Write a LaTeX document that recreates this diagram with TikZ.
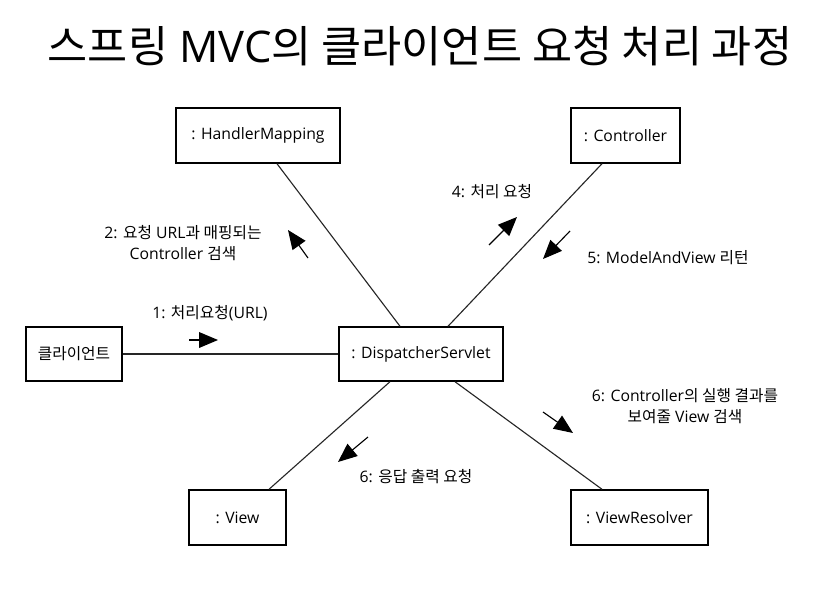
\documentclass[tikz,border=0pt]{standalone}
\usepackage{fontspec}
\setmainfont{Open Sans}
\newfontfamily\hangul{Noto Sans CJK KR}
\usetikzlibrary{arrows.meta, calc}

\begin{document}
\begin{tikzpicture}[
    x=0.025cm, y=-0.025cm,
    every node/.style={font=\fontsize{11.2}{15.3}\selectfont},
    objeto/.style={
        draw=black,
        line width=1pt,
        fill=white,
        align=center,
        minimum height=1.375cm
    },
    ligacao/.style={
        draw=black!85,
        line width=0.8pt
    },
    mensagem/.style={
        -{Triangle[length=13.5pt,width=11.2pt]},
        line width=0.8pt
    },
    rotulo/.style={
        align=center
    }
]

\useasboundingbox (0,0) rectangle (824,599);

% ============================================================
% TITULO
% ============================================================

\node[
    font=\fontsize{31}{36}\selectfont
] (titulo) at (420,46)
{{\hangul 스프링} MVC{\hangul 의 클라이언트 요청 처리 과정}};

% ============================================================
% OBJETOS
% ============================================================

\node[
    objeto,
    minimum width=4.1cm
] (hm) at (258,135.5)
{: HandlerMapping};

\node[
    objeto,
    minimum width=2.725cm
] (ctrl) at (625.5,135.5)
{: Controller};

\node[
    objeto,
    minimum width=2.4cm,
    minimum height=1.35cm
] (cliente) at (74,354)
{\hangul 클라이언트};

\node[
    objeto,
    minimum width=4.1cm,
    minimum height=1.35cm
] (ds) at (421,354)
{: DispatcherServlet};

\node[
    objeto,
    minimum width=2.425cm
] (view) at (237.5,517.5)
{: View};

\node[
    objeto,
    minimum width=3.425cm
] (vr) at (639.5,517.5)
{: ViewResolver};

% ============================================================
% LIGACOES
% ============================================================

\draw[ligacao] (cliente.east) -- (ds.west);
\draw[ligacao] ($(hm.south)+(19,0)$) -- ($(ds.north)+(-21,0)$);
\draw[ligacao] ($(ctrl.south)+(-23.5,0)$) -- ($(ds.north)+(27,0)$);
\draw[ligacao] ($(view.north)+(31.5,0)$) -- ($(ds.south)+(-31,0)$);
\draw[ligacao] ($(vr.north)+(-37.5,0)$) -- ($(ds.south)+(34,0)$);

% ============================================================
% MENSAGENS
% ============================================================

% 1: cliente -> DispatcherServlet
\coordinate (m1a) at (189,340);
\coordinate (m1b) at (218,340);
\draw[mensagem] (m1a) -- (m1b);
\node[rotulo] (l1) at (210,313)
{1: {\hangul 처리요청}(URL)};

% 2: DispatcherServlet -> HandlerMapping
\coordinate (m2a) at (308,258);
\coordinate (m2b) at (288,230);
\draw[mensagem] (m2a) -- (m2b);
\node[rotulo] (l2) at (183,243)
{2: {\hangul 요청} URL{\hangul 과 매핑되는}\\Controller {\hangul 검색}};

% 4: DispatcherServlet -> Controller
\coordinate (m4a) at (489,245);
\coordinate (m4b) at (517,217);
\draw[mensagem] (m4a) -- (m4b);
\node[rotulo] (l4) at (492,192)
{4: {\hangul 처리 요청}};

% 5: Controller -> DispatcherServlet
\coordinate (m5a) at (570,231);
\coordinate (m5b) at (543,259);
\draw[mensagem] (m5a) -- (m5b);
\node[rotulo] (l5) at (668,258)
{5: ModelAndView {\hangul 리턴}};

% 6: DispatcherServlet -> ViewResolver
\coordinate (m6a) at (543,412);
\coordinate (m6b) at (573,433);
\draw[mensagem] (m6a) -- (m6b);
\node[rotulo] (l6a) at (685,406)
{6: Controller{\hangul 의 실행 결과를}\\{\hangul 보여줄} View {\hangul 검색}};

% 6: DispatcherServlet -> View
\coordinate (m7a) at (368,437);
\coordinate (m7b) at (338,462);
\draw[mensagem] (m7a) -- (m7b);
\node[rotulo] (l6b) at (416,477)
{6: {\hangul 응답 출력 요청}};

\end{tikzpicture}
\end{document}
